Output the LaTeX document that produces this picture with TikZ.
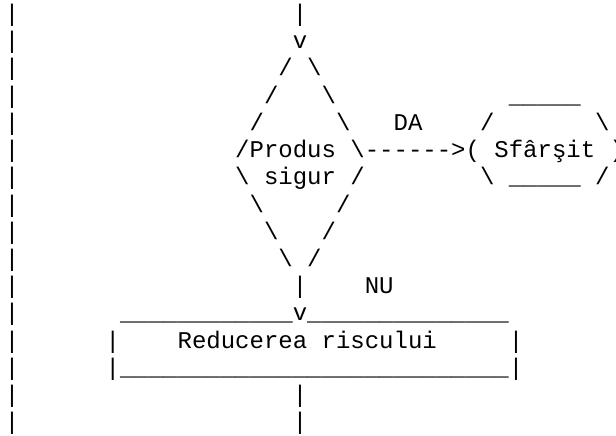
\documentclass[tikz,border=0pt]{standalone}
\usepackage{fontspec}
\setmonofont{Liberation Mono}
\begin{document}
\begin{tikzpicture}[x=10.8pt, y=-20.4pt,
  asc/.style={anchor=base west, inner sep=0pt, outer sep=0pt, text=black,
    font=\ttfamily\fontsize{18}{20.4}\selectfont}]
\fill[white] (-0.33333,-0.79412) rectangle (42.44444,15.19853);
\useasboundingbox (-0.33333,-0.79412) rectangle (42.44444,15.19853);
% left margin column
\foreach \k in {0,...,15} { \node[asc] (left\k) at (0,\k) {|}; }
% line 0-1: incoming arrow
\node[asc] (top1) at (20,0) {|};
\node[asc] (top2) at (20,1) {v};
% decision diamond
\node[asc] (d1l) at (19,2) {/};
\node[asc] (d1r) at (21,2) {\textbackslash};
\node[asc] (d2l) at (18,3) {/};
\node[asc] (d2r) at (22,3) {\textbackslash};
\node[asc] (d3l) at (17,4) {/};
\node[asc] (d3r) at (23,4) {\textbackslash};
\node[asc] (dtxt1) at (16,5) {/Produs};
\node[asc] (darrow) at (24,5) {\textbackslash------>(};
\node[asc] (d5l) at (16,6) {\textbackslash};
\node[asc] (dtxt2) at (18,6) {sigur};
\node[asc] (d5r) at (24,6) {/};
\node[asc] (d6l) at (17,7) {\textbackslash};
\node[asc] (d6r) at (23,7) {/};
\node[asc] (d7l) at (18,8) {\textbackslash};
\node[asc] (d7r) at (22,8) {/};
\node[asc] (d8l) at (19,9) {\textbackslash};
\node[asc] (d8r) at (21,9) {/};
% labels
\node[asc] (da) at (27,4) {DA};
\node[asc] (nu) at (25,10) {NU};
% end terminal
\node[asc] (e1) at (35,3) {\_\_\_\_\_};
\node[asc] (e2l) at (33,4) {/};
\node[asc] (e2r) at (41,4) {\textbackslash};
\node[asc] (etxt) at (34,5) {Sfârşit};
\node[asc] (e3r) at (42,5) {)};
\node[asc] (e4l) at (33,6) {\textbackslash};
\node[asc] (e4m) at (35,6) {\_\_\_\_\_};
\node[asc] (e4r) at (41,6) {/};
% NU branch
\node[asc] (nbar) at (20,10) {|};
\node[asc] (b1a) at (8,11) {\_\_\_\_\_\_\_\_\_\_\_\_};
\node[asc] (b1v) at (20,11) {v};
\node[asc] (b1b) at (21,11) {\_\_\_\_\_\_\_\_\_\_\_\_\_\_};
\node[asc] (b2l) at (7,12) {|};
\node[asc] (btxt) at (12,12) {Reducerea riscului};
\node[asc] (b2r) at (35,12) {|};
\node[asc] (b3l) at (7,13) {|};
\node[asc] (b3m) at (8,13) {\_\_\_\_\_\_\_\_\_\_\_\_\_\_\_\_\_\_\_\_\_\_\_\_\_\_\_};
\node[asc] (b3r) at (35,13) {|};
\node[asc] (out1) at (20,14) {|};
\node[asc] (out2) at (20,15) {|};
\end{tikzpicture}
\end{document}
